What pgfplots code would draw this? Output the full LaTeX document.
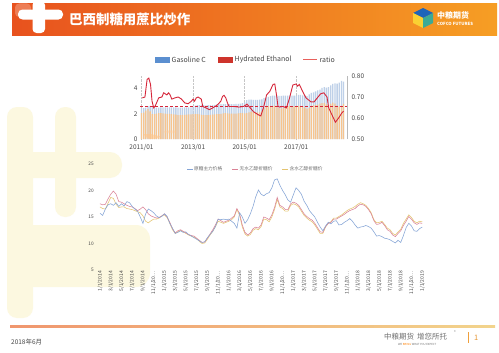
\documentclass[border=0pt]{standalone}
\usepackage{fontspec}
\setmainfont{Noto Sans CJK SC}
\usepackage{pgfplots}
\pgfplotsset{compat=1.18}
\usepackage{pgfplotstable}

\definecolor{hdrL}{RGB}{232,82,30}
\definecolor{hdrR}{RGB}{246,158,36}
\definecolor{paleY}{RGB}{252,248,224}
\definecolor{gasC}{RGB}{190,208,232}
\definecolor{gasL}{RGB}{91,143,208}
\definecolor{ethC}{RGB}{246,196,142}
\definecolor{ethL}{RGB}{206,52,44}
\definecolor{ratioC}{RGB}{214,38,58}
\definecolor{ratioL}{RGB}{232,96,92}
\definecolor{sBlue}{RGB}{132,164,214}
\definecolor{sPink}{RGB}{218,130,150}
\definecolor{sGold}{RGB}{228,196,112}
\definecolor{tickc}{RGB}{70,70,70}
\definecolor{lgray}{RGB}{110,110,110}
\definecolor{logoB}{RGB}{30,100,185}
\definecolor{logoY}{RGB}{250,208,50}
\definecolor{logoG}{RGB}{60,170,150}
\definecolor{footL}{RGB}{240,150,110}
\definecolor{footR}{RGB}{242,212,140}
\definecolor{footBar}{RGB}{240,160,60}
\definecolor{footNum}{RGB}{230,150,50}

\pgfplotstableread{
m gas eth
0 2.45 2.05
1 2.46 2.10
2 2.50 2.25
3 2.60 2.40
4 2.62 2.20
5 2.55 1.98
6 2.50 1.98
7 2.50 2.02
8 2.50 2.05
9 2.52 2.05
10 2.52 2.03
11 2.52 2.02
12 2.52 2.00
13 2.52 2.00
14 2.52 1.98
15 2.51 1.96
16 2.51 1.93
17 2.50 1.90
18 2.50 1.90
19 2.50 1.90
20 2.51 1.92
21 2.51 1.94
22 2.51 1.95
23 2.52 1.95
24 2.58 1.97
25 2.65 1.98
26 2.68 1.98
27 2.68 1.95
28 2.68 1.92
29 2.68 1.90
30 2.67 1.90
31 2.68 1.90
32 2.68 1.92
33 2.69 1.94
34 2.70 1.95
35 2.74 1.97
36 2.75 1.98
37 2.76 2.00
38 2.76 2.03
39 2.76 2.06
40 2.77 2.04
41 2.77 2.01
42 2.77 2.01
43 2.77 2.01
44 2.78 2.02
45 2.79 2.04
46 2.80 2.05
47 2.85 2.05
48 2.90 2.03
49 3.08 2.05
50 3.12 2.12
51 3.12 2.18
52 3.10 2.14
53 3.10 2.12
54 3.10 2.12
55 3.12 2.12
56 3.14 2.20
57 3.25 2.45
58 3.30 2.58
59 3.35 2.62
60 3.40 2.62
61 3.44 2.62
62 3.45 2.64
63 3.44 2.58
64 3.43 2.46
65 3.43 2.43
66 3.44 2.48
67 3.45 2.56
68 3.45 2.60
69 3.46 2.62
70 3.45 2.60
71 3.44 2.58
72 3.45 2.58
73 3.50 2.62
74 3.50 2.62
75 3.46 2.60
76 3.42 2.50
77 3.40 2.42
78 3.55 2.48
79 3.66 2.62
80 3.70 2.66
81 3.78 2.68
82 3.85 2.72
83 3.92 2.80
84 4.05 2.85
85 4.12 2.86
86 4.08 2.75
87 4.12 2.70
88 4.25 2.78
89 4.38 2.88
90 4.42 2.80
91 4.40 2.65
92 4.48 2.58
93 4.62 2.62
94 4.55 2.78
}\topbars

\pgfplotstableread{
m b p g
0 15.7 17.5 16.9
0.5 15.3 17.3 16.6
1 16.5 17.4 16.5
1.5 17.3 18.4 17.6
2 17.5 19.3 18.7
2.5 17.2 19.9 18.5
3 17.7 19.3 17.4
3.5 17.0 17.9 16.8
4 17.5 17.8 16.9
4.5 17.1 17.5 16.9
5 17.9 17.2 16.6
5.5 17.7 17.0 16.5
6 17.0 16.9 16.4
6.5 16.5 16.6 16.2
7 16.1 16.2 16.0
7.5 15.0 16.5 15.8
8 13.8 16.9 15.2
8.5 15.6 16.4 14.2
9 16.5 15.6 13.9
9.5 16.2 15.2 14.3
10 15.8 15.0 14.6
10.5 15.2 14.8 14.6
11 14.9 14.9 14.8
11.5 15.1 15.2 15.2
12 15.6 15.6 15.4
12.5 15.1 15.0 14.9
13 13.8 14.0 13.8
13.5 12.9 12.8 12.6
14 11.9 12.0 11.9
14.5 12.1 12.4 12.2
15 12.4 12.6 12.5
15.5 12.1 12.3 12.2
16 12.2 12.0 11.9
16.5 11.7 11.7 11.6
17 11.4 11.5 11.4
17.5 11.1 11.4 11.2
18 10.8 11.0 10.9
18.5 10.5 10.6 10.4
19 10.2 10.2 10.0
19.5 10.3 10.3 10.1
20 11.1 11.0 10.8
20.5 11.7 11.8 11.6
21 12.3 12.6 12.3
21.5 13.2 13.5 13.2
22 14.6 14.6 14.2
22.5 14.5 14.3 14.0
23 14.6 14.0 13.8
23.5 14.5 14.2 14.0
24 14.6 14.4 14.2
24.5 14.2 14.8 14.5
25 13.8 15.2 15.0
25.5 12.9 16.6 16.4
26 15.8 15.6 15.3
26.5 15.0 13.5 13.1
27 13.8 12.1 11.8
27.5 14.5 11.6 11.4
28 15.6 12.0 11.7
28.5 17.0 12.8 12.5
29 18.8 13.1 12.8
29.5 20.1 12.9 12.6
30 19.3 13.5 13.2
30.5 19.0 15.0 14.6
31 19.4 14.8 14.5
31.5 19.6 14.5 14.1
32 20.5 15.4 15.0
32.5 22.0 16.8 16.4
33 22.2 18.7 18.3
33.5 21.0 17.2 16.9
34 20.0 16.9 16.6
34.5 19.2 16.4 16.1
35 18.2 16.4 16.1
35.5 17.8 17.5 17.2
36 19.2 17.8 17.5
36.5 20.5 17.6 17.3
37 20.0 17.2 16.9
37.5 19.3 16.4 16.1
38 18.0 15.6 15.3
38.5 17.2 15.1 14.8
39 16.2 14.7 14.4
39.5 15.6 14.4 14.1
40 15.0 13.8 13.5
40.5 14.0 13.0 12.7
41 13.1 12.2 11.9
41.5 12.4 12.1 11.9
42 13.3 13.2 13.1
42.5 14.0 13.8 13.8
43 13.7 14.0 14.1
43.5 14.2 14.6 14.8
44 14.3 14.6 14.8
44.5 13.5 14.9 15.1
45 13.6 15.2 15.4
45.5 14.0 15.5 15.8
46 14.3 15.9 16.2
46.5 14.7 16.2 16.5
47 14.2 16.4 16.7
47.5 13.5 16.6 17.0
48 12.9 17.1 17.4
48.5 13.1 17.4 17.7
49 13.2 17.3 17.5
49.5 13.4 17.0 17.2
50 13.2 16.4 16.6
50.5 12.9 15.6 15.8
51 12.2 14.3 14.5
51.5 11.4 13.6 13.9
52 11.5 13.7 14.0
52.5 11.3 14.0 14.2
53 11.0 13.4 13.6
53.5 10.9 12.6 12.9
54 10.7 12.3 12.6
54.5 10.4 11.6 11.9
55 10.1 11.3 11.6
55.5 10.6 11.9 12.2
56 10.2 12.4 12.7
56.5 11.5 13.4 13.8
57 13.0 14.2 14.6
57.5 13.8 15.1 15.4
58 13.3 14.6 14.9
58.5 12.4 13.9 14.2
59 12.3 13.6 13.9
59.5 12.8 13.9 14.2
60 13.1 13.8 14.1
}\sugar

\begin{document}
\begin{tikzpicture}
\useasboundingbox (0,0) rectangle (499bp,-353bp);
\begin{scope}[x=1bp,y=-1bp]
\begin{scope}
\clip (0,0) rectangle (499,353);
\fill[white] (0,0) rectangle (499,353);
% pale decoration (large faint logo figure)
\fill[paleY, rounded corners=10bp] (7,107) rectangle (33,318);
\fill[paleY, rounded corners=10bp] (55,107) rectangle (76,217);
\fill[paleY, rounded corners=12bp] (20,152) rectangle (122,178);
\fill[paleY, rounded corners=14bp] (20,225) rectangle (150,287);
% header
\shade[left color=hdrL, right color=hdrR] (12,3) rectangle (497,35);
\fill[white, opacity=0.25, rounded corners=4bp] (15,3.5) rectangle (31,17);
\fill[white, rounded corners=4bp] (32.5,1) rectangle (45,33);
\fill[white, rounded corners=4.5bp] (18,9.5) rectangle (63,19.5);
\node[anchor=west, text=white, font=\fontsize{13.5}{15}\selectfont\bfseries, inner sep=0pt] at (69,19.5) {巴西制糖用蔗比炒作};
% logo
\fill[logoB] (413,13) -- (423,8) -- (433,13) -- (423,18) -- cycle;
\fill[logoY] (413,13) -- (423,18) -- (423,28) -- (413,23) -- cycle;
\fill[logoG] (423,18) -- (433,13) -- (433,23) -- (423,28) -- cycle;
\node[anchor=west, text=white, font=\fontsize{8}{9}\selectfont\bfseries, inner sep=0pt] at (437,15.5) {中粮期货};
\node[anchor=west, text=white, font=\fontsize{4.3}{5}\selectfont\bfseries, inner sep=0pt] at (437,24) {COFCO FUTURES};
% footer
\shade[left color=footL, right color=footR] (10,325) rectangle (495,327);
\node[anchor=west, text=tickc, font=\fontsize{6.5}{7}\selectfont, inner sep=0pt] at (11,342) {2018年6月};
\node[anchor=west, text=lgray, font=\fontsize{7.5}{8}\selectfont, inner sep=0pt] at (384,336.5) {中粮期货\hspace{3bp}增您所托};
\node[anchor=west, text=lgray, font=\fontsize{2.8}{3}\selectfont, inner sep=0pt] at (398,344.5) {WE {\color{orange}BRING} WHAT YOU EXPECT};
\node[anchor=west, text=lgray, font=\fontsize{3.5}{4}\selectfont, inner sep=0pt] at (454,332.5) {®};
\fill[footBar] (467.5,331.5) rectangle (468.5,343);
\node[anchor=west, text=footNum, font=\fontsize{7.5}{8}\selectfont, inner sep=0pt] at (474,337.5) {1};
\end{scope}
\end{scope}

% ---------- top chart: bars (left axis) ----------
\begin{axis}[
  at={(140bp,-139bp)}, anchor=south west, scale only axis,
  width=207bp, height=63bp,
  xmin=-0.7, xmax=95.6, ymin=0, ymax=5,
  axis line style={draw=none}, major tick length=0pt,
  xtick={0,24,48,72}, xticklabels={2011/01,2013/01,2015/01,2017/01},
  ytick={0,2,4},
  xmajorgrids, grid style={gray!45, densely dotted},
  ticklabel style={font=\fontsize{6.5}{7}\selectfont, text=tickc},
  x tick label style={yshift=-1.5bp},
  y tick label style={xshift=1bp},
  /pgf/number format/assume math mode=true,
]
\addplot[ybar, bar width=1.3bp, bar shift=0pt, fill=gasC, draw=none] table[x=m,y=gas]{\topbars};
\addplot[ybar, bar width=1.3bp, bar shift=0pt, fill=ethC, draw=none] table[x=m,y=eth]{\topbars};
\end{axis}

% ---------- top chart: ratio (right axis) ----------
\begin{axis}[
  at={(140bp,-139bp)}, anchor=south west, scale only axis,
  width=207bp, height=63bp,
  xmin=-0.7, xmax=95.6, ymin=0.5, ymax=0.8,
  axis x line=none, axis y line*=right,
  y axis line style={-, gray!55},
  major tick length=0pt,
  ytick={0.5,0.6,0.7,0.8},
  ticklabel style={font=\fontsize{6.5}{7}\selectfont, text=tickc},
  y tick label style={/pgf/number format/fixed, /pgf/number format/fixed zerofill, /pgf/number format/precision=2, xshift=1bp},
  /pgf/number format/assume math mode=true,
]
\addplot[ratioC, dash pattern=on 3bp off 2bp, line width=1bp] coordinates {(-0.7,0.655) (95.6,0.655)};
\addplot[ratioC, line width=0.9bp] coordinates {
(0.4,0.696)(1.6,0.70)(2.6,0.784)(3.4,0.79)(4.2,0.76)(4.9,0.68)(5.7,0.648)(6.5,0.66)(8.0,0.696)(9.5,0.70)(10.3,0.72)(11.8,0.71)(12.6,0.72)(13.3,0.71)(14.1,0.69)(15.6,0.696)(17.1,0.70)(18.6,0.69)(20.1,0.672)(21.7,0.668)(23.2,0.68)(24.0,0.69)(24.7,0.68)(25.5,0.696)(26.3,0.70)(27.8,0.69)(28.5,0.655)(30.0,0.648)(31.6,0.64)(33.1,0.648)(35.4,0.663)(36.9,0.68)(37.7,0.703)(38.4,0.708)(39.2,0.696)(40.0,0.672)(40.7,0.655)(43.0,0.655)(45.3,0.652)(47.5,0.655)(49.1,0.666)(50.6,0.648)(52.1,0.63)(54.4,0.615)(55.5,0.61)(56.7,0.648)(58.2,0.71)(59.7,0.727)(61.2,0.76)(62.0,0.762)(62.8,0.71)(63.5,0.655)(64.3,0.652)(65.8,0.655)(67.4,0.648)(68.9,0.696)(70.4,0.757)(71.9,0.762)(72.6,0.752)(73.4,0.76)(74.9,0.728)(76.5,0.696)(78.8,0.677)(80.3,0.677)(81.8,0.696)(83.3,0.715)(84.8,0.72)(86.3,0.70)(87.1,0.648)(88.6,0.615)(90.2,0.58)(91.7,0.60)(93.2,0.624)(94.0,0.632)};
\end{axis}

% ---------- bottom chart ----------
\begin{axis}[
  at={(97.3bp,-270bp)}, anchor=south west, scale only axis,
  width=327.6bp, height=106bp,
  xmin=-0.5, xmax=60.5, ymin=5, ymax=25,
  axis line style={draw=none}, major tick length=0pt,
  ytick={5,10,15,20,25},
  xtick={0,2,4,6,8,10,12,14,16,18,20,22,24,26,28,30,32,34,36,38,40,42,44,46,48,50,52,54,56,58,60},
  xticklabels={1/1/2014,3/1/2014,5/1/2014,7/1/2014,9/1/2014,11/1/20…,1/1/2015,3/1/2015,5/1/2015,7/1/2015,9/1/2015,11/1/20…,1/1/2016,3/1/2016,5/1/2016,7/1/2016,9/1/2016,11/1/20…,1/1/2017,3/1/2017,5/1/2017,7/1/2017,9/1/2017,11/1/20…,1/1/2018,3/1/2018,5/1/2018,7/1/2018,9/1/2018,11/1/20…,1/1/2019},
  ticklabel style={font=\fontsize{4.8}{5}\selectfont, text=tickc},
  x tick label style={rotate=90, anchor=east, inner sep=1pt, font=\fontsize{5}{5}\selectfont},
  /pgf/number format/assume math mode=true,
]
\addplot[sGold, line width=0.55bp] table[x=m,y=g]{\sugar};
\addplot[sPink, line width=0.55bp] table[x=m,y=p]{\sugar};
\addplot[sBlue, line width=0.55bp] table[x=m,y=b]{\sugar};
\end{axis}

% ---------- legends and watermark ----------
\begin{scope}[x=1bp,y=-1bp]
\fill[gasL] (155,57) rectangle (170,62.5);
\node[anchor=west, text=tickc, font=\fontsize{7}{8}\selectfont, inner sep=0pt] at (171.5,59.8) {Gasoline C};
\fill[ethL] (218,57) rectangle (233,62.5);
\node[anchor=west, text=tickc, font=\fontsize{7}{8}\selectfont, inner sep=0pt] at (234.5,59.8) {Hydrated Ethanol};
\draw[ratioL, line width=1bp] (303,59.8) -- (317,59.8);
\node[anchor=west, text=tickc, font=\fontsize{7}{8}\selectfont, inner sep=0pt] at (319.5,59.8) {ratio};
\fill[orange!45, opacity=0.6] (144,134) arc[start angle=180, end angle=30, x radius=9, y radius=5] -- (151,134) -- cycle;
\node[anchor=west, text=orange!40, font=\fontsize{3}{3}\selectfont, inner sep=0pt] at (164,132) {中粮期货};
\draw[sBlue, line width=0.6bp] (187,169) -- (193,169);
\node[anchor=west, text=lgray, font=\fontsize{4.7}{5}\selectfont, inner sep=0pt] at (194,169) {原糖主力价格};
\draw[sPink, line width=0.6bp] (232,169) -- (238,169);
\node[anchor=west, text=lgray, font=\fontsize{4.7}{5}\selectfont, inner sep=0pt] at (239.5,169) {无水乙醇折糖价};
\draw[sGold, line width=0.6bp] (282,169) -- (288,169);
\node[anchor=west, text=lgray, font=\fontsize{4.7}{5}\selectfont, inner sep=0pt] at (289.5,169) {含水乙醇折糖价};
\end{scope}
\end{tikzpicture}
\end{document}
